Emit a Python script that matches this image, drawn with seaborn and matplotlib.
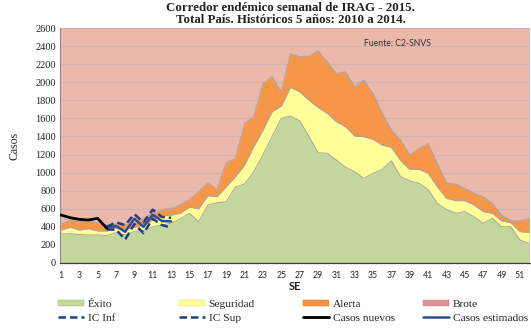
import numpy as np
import pandas as pd
import matplotlib
matplotlib.use("Agg")
import matplotlib.pyplot as plt
from matplotlib.patches import Patch
from matplotlib.lines import Line2D
import seaborn as sns

# Semanas epidemiológicas
semanas = list(range(1, 53))

# Umbrales del corredor endémico (límite superior de cada zona)
exito = [320, 325, 315, 310, 310, 305, 335, 310, 350, 360, 400, 420, 440, 490,
         550, 457, 642, 667, 678, 840, 874, 1010, 1195, 1397, 1600, 1626, 1574,
         1405, 1220, 1213, 1140, 1060, 1010, 937, 992, 1036, 1132, 955, 910, 882,
         815, 660, 594, 550, 568, 512, 439, 494, 402, 402, 254, 218]
seguridad = [365, 395, 365, 380, 355, 355, 385, 375, 395, 420, 476, 520, 530, 550,
             620, 600, 745, 734, 844, 955, 1084, 1287, 1471, 1674, 1737, 1943, 1895,
             1803, 1722, 1656, 1563, 1508, 1405, 1397, 1368, 1305, 1280, 1132, 1036,
             1036, 992, 844, 716, 690, 690, 642, 568, 550, 468, 446, 347, 339]
alerta = [430, 476, 460, 465, 445, 420, 430, 425, 445, 494, 550, 586, 605, 642,
          700, 790, 889, 815, 1110, 1158, 1545, 1619, 1988, 2061, 1895, 2312, 2282,
          2290, 2348, 2227, 2098, 2116, 1950, 2024, 1877, 1656, 1471, 1361, 1195,
          1268, 1324, 1103, 882, 874, 826, 771, 734, 660, 531, 468, 468, 494]
brote_tope = 2600

# Casos 2015
sem_nuevos = [1, 2, 3, 4, 5, 6]
casos_nuevos = [531, 501, 483, 476, 494, 384]
sem_estimados = [6, 7, 8, 9, 10, 11, 12, 13]
casos_estimados = [384, 410, 345, 490, 400, 535, 465, 460]
ic_sup = [400, 450, 420, 540, 450, 590, 510, 500]
ic_inf = [370, 370, 260, 430, 330, 490, 420, 390]

C_EXITO = "#C3D69B"
C_SEG = "#FFFF99"
C_ALERTA = "#F79646"
C_BROTE = "#EBB9AB"
C_BROTE_LEG = "#D99694"
C_EDGE = "#A6A6A6"
C_IC = "#1F3F7F"
C_EST = "#2A4F8F"
DASH = (0, (3.0, 1.6))

SERIF = ["Liberation Serif", "DejaVu Serif"]
SANS = ["Lato", "DejaVu Sans"]

sns.set_style("white")
plt.rcParams["font.family"] = SERIF

fig = plt.figure(figsize=(5.31, 3.29), dpi=100)
ax = fig.add_axes([60 / 531, 66 / 329, 470 / 531, 235 / 329])
ax.set_facecolor(C_BROTE)

df = pd.DataFrame({"SE": semanas, "exito": exito, "seguridad": seguridad,
                   "alerta": alerta})

# Zonas del corredor
ax.fill_between(df["SE"], 0, df["exito"], color=C_EXITO, zorder=2, lw=0)
ax.fill_between(df["SE"], df["exito"], df["seguridad"], color=C_SEG, zorder=2, lw=0)
ax.fill_between(df["SE"], df["seguridad"], df["alerta"], color=C_ALERTA, zorder=2, lw=0)
for col in ["exito", "seguridad", "alerta"]:
    sns.lineplot(data=df, x="SE", y=col, ax=ax, color=C_EDGE, lw=0.7, zorder=3)

# Casos observados y estimados
df_n = pd.DataFrame({"SE": sem_nuevos, "casos": casos_nuevos})
df_e = pd.DataFrame({"SE": sem_estimados, "est": casos_estimados,
                     "sup": ic_sup, "inf": ic_inf})
sns.lineplot(data=df_e, x="SE", y="sup", ax=ax, color=C_IC, lw=1.8,
             linestyle=DASH, zorder=5)
sns.lineplot(data=df_e, x="SE", y="inf", ax=ax, color=C_IC, lw=1.8,
             linestyle=DASH, zorder=5)
sns.lineplot(data=df_e, x="SE", y="est", ax=ax, color=C_EST, lw=1.8, zorder=6)
sns.lineplot(data=df_n, x="SE", y="casos", ax=ax, color="black", lw=2.0, zorder=6)

# Ejes
ax.set_ylim(0, 2600)
ax.set_xlim(0.9, 52.1)
ax.set_yticks(range(0, 2601, 200))
ax.set_yticklabels([str(v) for v in range(0, 2601, 200)], fontsize=7.5,
                   family=SERIF)
ax.set_xticks(semanas)
ax.set_xticklabels([str(s) if s % 2 == 1 else "" for s in semanas], fontsize=6.3,
                   family=SANS)
ax.tick_params(axis="x", direction="inout", length=5, width=0.8, color="#404040",
               pad=3)
ax.tick_params(axis="y", direction="in", length=3, width=0.8, color="#808080",
               pad=3)
ax.grid(axis="y", color="#CDB4AE", lw=0.8)
ax.grid(axis="x", visible=False)
ax.set_axisbelow(True)
for s in ["top", "right"]:
    ax.spines[s].set_visible(False)
ax.spines["left"].set_color("#8C8C8C")
ax.spines["bottom"].set_color("#404040")
ax.spines["left"].set_linewidth(0.8)
ax.spines["bottom"].set_linewidth(0.9)
ax.set_xlabel("")
ax.set_ylabel("")

fig.text(14 / 531, 1 - 146 / 329, "Casos", rotation=90, ha="center", va="center",
         fontsize=8.5, family=SERIF)
fig.text(295 / 531, 1 - 287 / 329, "SE", ha="center", va="center", fontsize=8,
         family=SANS, fontweight="bold")
fig.text(364 / 531, 1 - 43 / 329, "Fuente: C2-SNVS", ha="left", va="center",
         fontsize=6.2, family=SANS, color="#333333")

fig.text(291 / 531, 1 - 14 / 329,
         "Corredor endémico semanal de IRAG - 2015.\nTotal País. Históricos 5 años: 2010 a 2014.",
         ha="center", va="center", fontsize=9.3, fontweight="bold", family=SERIF,
         linespacing=1.05, color="#222222")

# Leyenda: cuatro columnas de dos filas
columnas = [
    (58, [Patch(facecolor=C_EXITO, edgecolor="#9BBB59", lw=0.3),
          Line2D([0], [0], color=C_IC, lw=1.8, linestyle=DASH)],
     ["Éxito", "IC Inf"]),
    (179, [Patch(facecolor=C_SEG, edgecolor="#D8D870", lw=0.3),
           Line2D([0], [0], color=C_IC, lw=1.8, linestyle=DASH)],
     ["Seguridad", "IC Sup"]),
    (303, [Patch(facecolor=C_ALERTA, edgecolor="#E46C0A", lw=0.3),
           Line2D([0], [0], color="black", lw=2.0)],
     ["Alerta", "Casos nuevos"]),
    (423, [Patch(facecolor=C_BROTE_LEG, edgecolor="#C08080", lw=0.3),
           Line2D([0], [0], color=C_EST, lw=1.8)],
     ["Brote", "Casos estimados"]),
]
for x0, hs, ls in columnas:
    fig.legend(hs, ls, ncol=1, loc="center left",
               bbox_to_anchor=(x0 / 531, 1 - 311.5 / 329),
               frameon=False, prop={"family": SERIF, "size": 8.2},
               handlelength=2.3, handleheight=0.45, handletextpad=0.3,
               labelspacing=0.38, borderaxespad=0, borderpad=0)

fig.savefig("out.png", dpi=100)
